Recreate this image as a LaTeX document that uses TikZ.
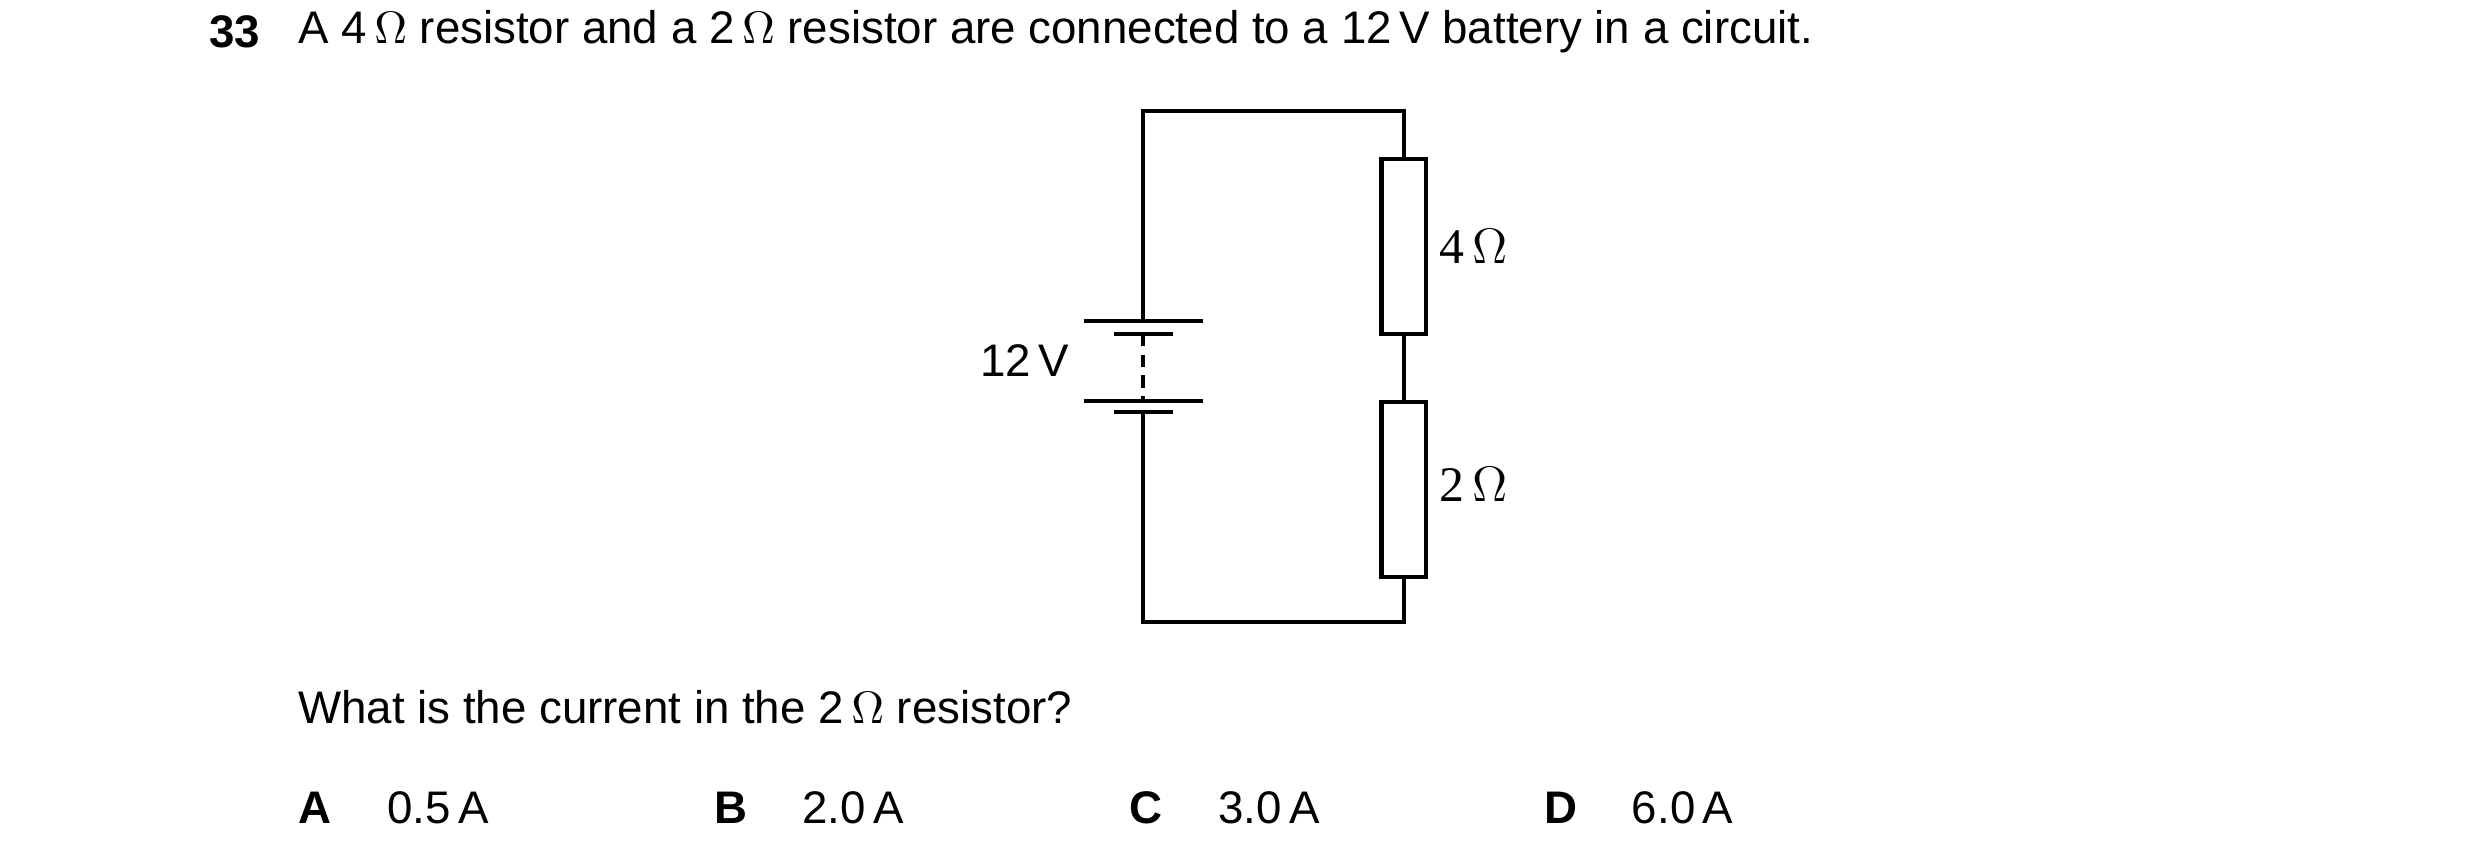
\documentclass[tikz,border=0pt]{standalone}
\usepackage{fontspec}
\setmainfont{Liberation Sans}
\newfontfamily\omfont{Liberation Serif}
\usetikzlibrary{positioning}
\tikzset{
  wire/.style={line width=1pt},
  res/.style={draw,line width=1pt,minimum width=28*0.01346cm,minimum height=110*0.01346cm,inner sep=0pt},
  txt/.style={anchor=west,inner sep=0pt,font=\fontsize{11}{13}\selectfont},
}
\begin{document}
\begin{tikzpicture}[x=0.01346cm,y=-0.01346cm]
  \useasboundingbox (0,0) rectangle (1560,540);

  % question text
  \node[txt,font=\fontsize{11}{13}\selectfont\bfseries] (num) at (131,20) {33};
  \node[txt] (q) at (187,20) {A 4\,$\Omega$ resistor and a 2\,$\Omega$ resistor are connected to a 12\,V battery in a circuit.};

  % corners of the circuit
  \coordinate (tl) at (719,70);
  \coordinate (tr) at (883,70);
  \coordinate (bl) at (719,391);
  \coordinate (br) at (883,391);
  \coordinate (bt1) at (719,202);
  \coordinate (bb1) at (719,259);

  % resistors
  \node[res] (r4) at (883,155) {};
  \node[res] (r2) at (883,308) {};
  \node[anchor=west,inner sep=0pt,font=\omfont\fontsize{12}{14}\selectfont] (l4) at (905,155) {4\,$\Omega$};
  \node[anchor=west,inner sep=0pt,font=\omfont\fontsize{12}{14}\selectfont] (l2) at (905,305) {2\,$\Omega$};

  % wires
  \draw[wire] (bt1) -- (tl) -- (tr) -- (r4.north);
  \draw[wire] (r4.south) -- (r2.north);
  \draw[wire] (r2.south) -- (br) -- (bl) -- (bb1);

  % battery
  \draw[wire] (682,202) -- (757,202);
  \draw[wire] (701,210) -- (738,210);
  \draw[wire] (682,252) -- (757,252);
  \draw[wire] (701,259) -- (738,259);
  \draw[wire,dash pattern=on 3pt off 2pt] (719,210) -- (719,252);
  \node[anchor=east,inner sep=0pt,font=\fontsize{11}{13}\selectfont] (v) at (673,227) {12\,V};

  % question and options
  \node[txt] (ask) at (187,445) {What is the current in the 2\,$\Omega$ resistor?};
  \node[txt,font=\fontsize{11}{13}\selectfont\bfseries] (oa) at (187,508) {A};
  \node[txt] (va) at (243,508) {0.5\,A};
  \node[txt,font=\fontsize{11}{13}\selectfont\bfseries] (ob) at (449,508) {B};
  \node[txt] (vb) at (504,508) {2.0\,A};
  \node[txt,font=\fontsize{11}{13}\selectfont\bfseries] (oc) at (710,508) {C};
  \node[txt] (vc) at (766,508) {3.0\,A};
  \node[txt,font=\fontsize{11}{13}\selectfont\bfseries] (od) at (971,508) {D};
  \node[txt] (vd) at (1026,508) {6.0\,A};
\end{tikzpicture}
\end{document}
